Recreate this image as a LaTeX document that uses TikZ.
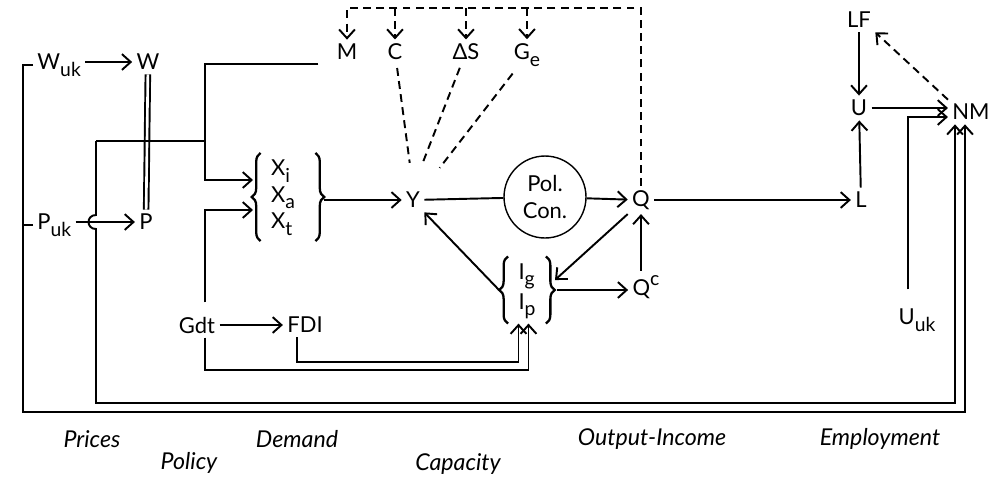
\documentclass[tikz,border=0pt]{standalone}
\usepackage{fontspec}
\setmainfont{Lato}
\usetikzlibrary{arrows.meta,decorations.pathreplacing}
\newcommand{\lo}[1]{\raisebox{-0.3em}{\fontsize{11}{13}\selectfont #1}}
\newcommand{\hi}[1]{\raisebox{0.45em}{\fontsize{11}{13}\selectfont #1}}
\begin{document}
\begin{tikzpicture}[x=0.02cm,y=-0.02cm,line width=1.1pt,>={Straight Barb[length=5pt,width=9pt]},
  every node/.style={inner sep=2pt,font=\fontsize{12.5}{15}\selectfont},
  lbl/.style={font=\fontsize{13.2}{16}\selectfont\itshape},
  dashedline/.style={dash pattern=on 4.5pt off 3pt},
  toy/.style={dashedline,shorten <=2pt,shorten >=0.5cm},
  brc/.style={decorate,decoration={brace,amplitude=5pt},line width=1.3pt}]
\useasboundingbox (0,0) rectangle (997,478);
\node[anchor=west] (wuk) at (33,65) {W\lo{uk}};
\node (w) at (148,62) {W};
\node[anchor=west] (puk) at (33,225) {P\lo{uk}};
\node (p) at (146,222) {P};
\node (m) at (347,52) {M};
\node (c) at (395,52) {C};
\node (ds) at (466,52) {ΔS};
\node (ge) at (527,55) {G\lo{e}};
\node (xblk) at (283,197) {\begin{tabular}{@{}l@{}}X\lo{i}\\X\lo{a}\\X\lo{t}\end{tabular}};
\node (y) at (413,200) {Y};
\node[circle,draw,line width=0.8pt,minimum size=1.64cm,align=center] (pc) at (545,197) {Pol.\\Con.};
\node (q) at (641,200) {Q};
\node (ib) at (527,290) {\begin{tabular}{@{}l@{}}I\lo{g}\\[2pt]I\lo{p}\end{tabular}};
\node (qc) at (646,287) {Q\hi{c}};
\node (gdt) at (197,325) {Gdt};
\node (fdi) at (305,325) {FDI};
\node (lf) at (859,20) {LF};
\node (u) at (859,108) {U};
\node (l) at (861,200) {L};
\node (nm) at (971,112) {NM};
\node (uuk) at (917,320) {U\lo{uk}};
\node[lbl] (prices) at (92,439) {Prices};
\node[lbl] (policy) at (189,463) {Policy};
\node[lbl] (demand) at (297,439) {Demand};
\node[lbl] (capacity) at (458,464) {Capacity};
\node[lbl] (output) at (652,439) {Output-Income};
\node[lbl] (employment) at (880,439) {Employment};
\draw[brc] ([xshift=-0.12cm]xblk.south west) -- ([xshift=-0.12cm]xblk.north west);
\draw[brc] ([xshift=0.32cm]xblk.north east) -- ([xshift=0.32cm]xblk.south east);
\draw[brc] ([xshift=-0.12cm]ib.south west) -- ([xshift=-0.12cm]ib.north west);
\draw[brc] ([xshift=0.12cm]ib.north east) -- ([xshift=0.12cm]ib.south east);
\coordinate (dtop) at (0,8);
\coordinate (obl) at (23,412);
\coordinate (obr) at (965,412);
\coordinate (ibl) at (96,403);
\coordinate (ibr) at (955,403);
\coordinate (itop) at (96,141);
\coordinate (split) at (205,141);
\coordinate (xin1) at (253,180);
\coordinate (xin2) at (253,210);
\coordinate (gbot) at (205,370);
\coordinate (fbot) at (297,362);
\coordinate (ucor) at (908,117);
\draw[->] (wuk.west) -| (obl) -- (obr) -- (obr |- nm.south);
\draw (puk.west) -- (puk.west -| obl);
\draw[->] (wuk.east |- w) -- (w);
\draw[->] (puk.east |- p) -- (p);
\draw[double,double distance=1.5pt] (w) -- (p);
\draw[->] (itop) -- ([yshift=0.14cm]itop |- p) .. controls +(-0.2cm,0) and +(-0.2cm,0) .. ([yshift=-0.14cm]itop |- p) -- (ibl) -- (ibr) -- (ibr |- nm.south);
\draw (itop) -- (split);
\draw[->] ([xshift=-0.28cm]m.south west) -- (split |- m.south) |- (xin1);
\draw[->,shorten <=0.2cm] (gdt.north -| split) |- (xin2);
\draw[->] (gdt) -- (fdi);
\draw[->] (gdt.south -| split) -- (gbot) -| ([xshift=0.03cm]ib.south);
\draw[->] (fdi.south -| fbot) -- (fbot) -| ([xshift=-0.17cm]ib.south);
\draw[->] ([xshift=0.5cm]xblk.east |- y) -- (y);
\draw (y) -- (pc);
\draw[->] (pc) -- (q);
\draw[->] (q) -- (l);
\draw[->] ([xshift=-0.3cm]ib.west) -- (y.south east);
\draw[->] (q.south west) -- ([xshift=0.3cm,yshift=0.2cm]ib.east);
\draw[->] ([xshift=0.35cm]ib.east) -- (qc.west |- ib.east);
\draw[->] (q.south |- qc.north) -- (q.south);
\draw[dashedline,->] (q.north) |- (m.north |- dtop) -- (m.north);
\foreach \n in {c,ds,ge} \draw[dashedline,->] (\n.north |- dtop) -- (\n.north);
\draw[toy] (c) -- (y.north);
\draw[toy] (ds) -- (y.north);
\draw[toy] (ge) -- (y.north east);
\draw[->] (lf) -- (u);
\draw[->] (l) -- (u);
\draw[->] (u) -- (u -| nm.west);
\draw[->,shorten <=0.3cm] (uuk.north -| ucor) -- (ucor) -- (ucor -| nm.west);
\draw[dashedline,->] (nm.north west) -- (lf.south east);
\end{tikzpicture}
\end{document}
